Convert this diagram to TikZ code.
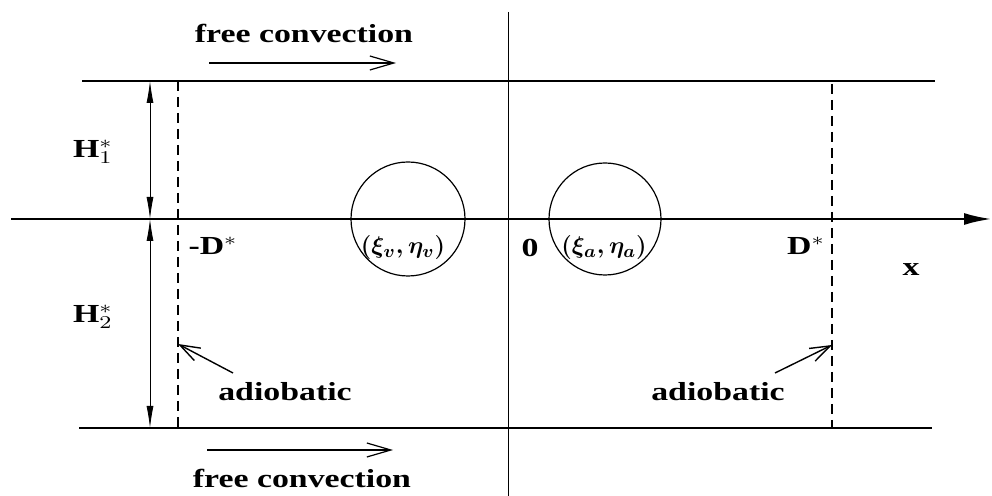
\documentclass[tikz,border=0pt]{standalone}
\usepackage{fontspec}
\setmainfont{Liberation Serif}
\usetikzlibrary{arrows.meta}

\begin{document}
\begin{tikzpicture}[x=0.5pt,y=-0.5pt,
  wall/.style={line width=1.4pt},
  adiab/.style={line width=1pt,dash pattern=on 5pt off 3pt},
  lbl/.style={font=\fontsize{13}{15}\selectfont\bfseries,xscale=1.3,transform shape,inner sep=0pt},
  mlbl/.style={font=\fontsize{13}{15}\selectfont\boldmath,inner sep=0pt},
  flow/.style={-{Straight Barb[length=12pt,width=7pt]},line width=0.6pt},
  hint/.style={-{Straight Barb[length=10pt,width=7pt]},line width=0.7pt},
  gap/.style={{Latex[length=11pt,width=3.5pt]}-{Latex[length=11pt,width=3.5pt]},line width=0.4pt}]
\useasboundingbox (0,0) rectangle (992,496);

\coordinate (TL) at (82,81);
\coordinate (TR) at (935,81);
\coordinate (BL) at (79,428);
\coordinate (BR) at (932,428);
\coordinate (AxL) at (11,219);
\coordinate (AxR) at (992,219);
\coordinate (Ct) at (508,12);
\coordinate (Cb) at (508,496);
\coordinate (LDt) at (178,81);
\coordinate (LDb) at (178,428);
\coordinate (RDt) at (832,84);
\coordinate (RDb) at (832,428);
\coordinate (Ht) at (150,81);
\coordinate (Hm) at (150,219);
\coordinate (Hb) at (150,428);

\draw[wall] (TL) -- (TR);
\draw[wall] (BL) -- (BR);
\draw[wall,-{Latex[length=14pt,width=6pt]}] (AxL) -- (AxR);
\draw[line width=0.4pt] (Ct) -- (Cb);
\draw[adiab] (LDt) -- (LDb);
\draw[adiab] (RDt) -- (RDb);
\draw[gap] (Ht) -- (Hm);
\draw[gap] (Hm) -- (Hb);

\node[circle,draw,line width=0.6pt,minimum size=57pt,inner sep=0pt] (vor) at (408,219) {};
\node[circle,draw,line width=0.6pt,minimum size=56pt,inner sep=0pt] (src) at (605,219) {};

\node[mlbl] (vorl) at (403,248) {$(\xi_v,\eta_v)$};
\node[mlbl] (srcl) at (604,248) {$(\xi_a,\eta_a)$};
\node[lbl] (orig) at (530,248) {0};
\node[lbl] (mD) at (213,246) {-D$^{*}$};
\node[lbl] (pD) at (806,246) {D$^{*}$};
\node[lbl] (xl) at (911,270) {x};
\node[lbl] (H1) at (93,152) {H$^{*}_{1}$};
\node[lbl] (H2) at (93,317) {H$^{*}_{2}$};

\node[lbl] (adl) at (285,392) {adiobatic};
\node[lbl] (adr) at (718,392) {adiobatic};
\coordinate (adlt) at (233,373);
\coordinate (adlh) at (178,344);
\coordinate (adrt) at (775,373);
\coordinate (adrh) at (832,345);
\draw[hint] (adlt) -- (adlh);
\draw[hint] (adrt) -- (adrh);

\node[lbl] (fct) at (304,33) {free convection};
\node[lbl] (fcb) at (302,478) {free convection};
\coordinate (fcta) at (209,63);
\coordinate (fctb) at (396,63);
\coordinate (fcba) at (207,450);
\coordinate (fcbb) at (393,450);
\draw[flow] (fcta) -- (fctb);
\draw[flow] (fcba) -- (fcbb);
\end{tikzpicture}
\end{document}
